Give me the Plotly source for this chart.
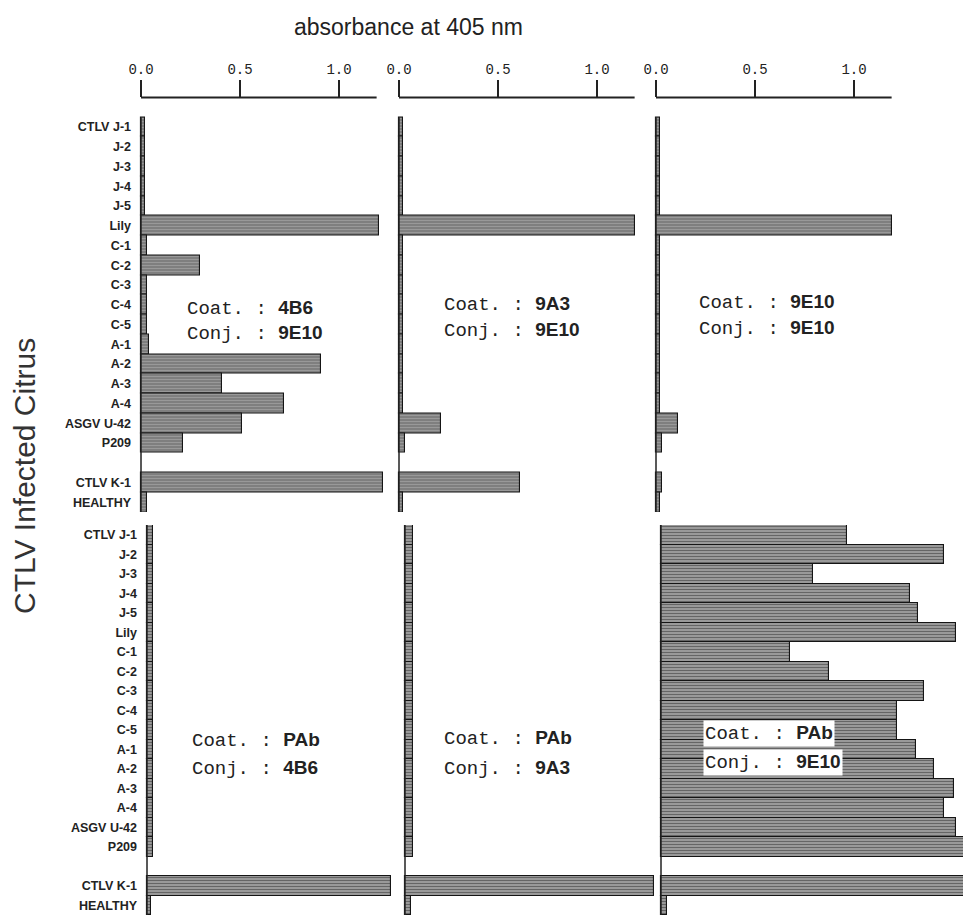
import plotly.graph_objects as go

W, H = 963, 917
def px(x): return x / W
def py(y): return 1 - y / H

# ---------------- data ----------------
categories = ["CTLV J-1", "J-2", "J-3", "J-4", "J-5", "Lily", "C-1", "C-2", "C-3",
              "C-4", "C-5", "A-1", "A-2", "A-3", "A-4", "ASGV U-42", "P209",
              "CTLV K-1", "HEALTHY"]
positions = list(range(17)) + [18, 19]

top_4b6_9e10 = [0.02, 0.02, 0.02, 0.02, 0.02, 1.20, 0.03, 0.30, 0.03, 0.03, 0.03, 0.04,
                0.91, 0.41, 0.72, 0.51, 0.21, 1.22, 0.03]
top_9a3_9e10 = [0.02, 0.02, 0.02, 0.02, 0.02, 1.19, 0.02, 0.02, 0.02, 0.02, 0.02, 0.02,
                0.02, 0.02, 0.02, 0.21, 0.03, 0.61, 0.02]
top_9e10_9e10 = [0.02, 0.02, 0.02, 0.02, 0.02, 1.19, 0.02, 0.02, 0.02, 0.02, 0.02, 0.02,
                 0.02, 0.02, 0.02, 0.11, 0.03, 0.03, 0.02]
bot_pab_4b6 = [0.03, 0.03, 0.03, 0.03, 0.03, 0.03, 0.03, 0.03, 0.03, 0.03, 0.03, 0.03,
               0.03, 0.03, 0.03, 0.03, 0.03, 1.23, 0.02]
bot_pab_9a3 = [0.04, 0.04, 0.04, 0.04, 0.04, 0.04, 0.04, 0.04, 0.04, 0.04, 0.04, 0.04,
               0.04, 0.04, 0.04, 0.04, 0.04, 1.26, 0.03]
bot_pab_9e10 = [0.94, 1.43, 0.77, 1.26, 1.30, 1.49, 0.65, 0.85, 1.33, 1.19, 1.19, 1.29,
                1.38, 1.48, 1.43, 1.49, 1.55, 1.60, 0.03]

coat_labels = ["4B6", "9A3", "9E10", "PAb", "PAb", "PAb"]
conj_labels = ["9E10", "9E10", "9E10", "4B6", "9A3", "9E10"]
tick_vals = [0.0, 0.5, 1.0]
tick_text = ["0.0", "0.5", "1.0"]

series = [top_4b6_9e10, top_9a3_9e10, top_9e10_9e10, bot_pab_4b6, bot_pab_9a3, bot_pab_9e10]

# ---------------- geometry (pixels) ----------------
SCALE = 198.0  # px per absorbance unit
x0_px = [141, 399, 656, 147, 405, 661]
right_px = [394, 653, 963, 400, 659, 963]
pad_px = 5
ydom = {0: (97.5, 512), 1: (525, 915)}
yrng = {0: [19.5, -1.5], 1: [19.5, -0.5]}

ann_pos = [(185, 308, 333), (442, 305, 330), (697, 303, 328),
           (190, 740, 768), (442, 738, 768), (703, 733, 762)]

fig = go.Figure()
layout = dict(width=W, height=H, margin=dict(l=0, r=0, t=0, b=0, pad=0, autoexpand=False),
              paper_bgcolor="white", plot_bgcolor="rgba(0,0,0,0)",
              showlegend=False, bargap=0)
shapes = []
annotations = []

for i, vals in enumerate(series):
    n = i + 1
    row = 0 if i < 3 else 1
    xa = "x" if n == 1 else f"x{n}"
    ya = "y" if n == 1 else f"y{n}"
    fig.add_trace(go.Bar(
        x=vals, y=positions, orientation="h", width=1.0,
        xaxis=xa, yaxis=ya,
        marker=dict(color="#ffffff",
                    line=dict(color="#151515", width=1.1),
                    pattern=dict(shape="-", fgcolor="#1a1a1a", bgcolor="#b0b0b0",
                                 size=3, solidity=0.55)),
        hoverinfo="x+y"))
    x0 = x0_px[i]
    xr = [-pad_px / SCALE, (right_px[i] - x0) / SCALE]
    xdom = [px(x0 - pad_px), px(right_px[i])]
    xkey = "xaxis" if n == 1 else f"xaxis{n}"
    ykey = "yaxis" if n == 1 else f"yaxis{n}"
    if row == 0:
        layout[xkey] = dict(domain=xdom, range=xr, anchor=ya, side="top",
                            tickvals=tick_vals, ticktext=tick_text,
                            ticks="outside", ticklen=17, tickwidth=1.5, tickcolor="#222",
                            tickfont=dict(family="Liberation Mono", size=14, color="#222"),
                            showline=False, showgrid=False, zeroline=False,
                            automargin=False, fixedrange=True)
        # top axis line from 0 to 1.19
        shapes.append(dict(type="line", xref=xa, yref="paper", x0=0, x1=1.19,
                           y0=py(97.5), y1=py(97.5), line=dict(color="#222", width=2)))
    else:
        layout[xkey] = dict(domain=xdom, range=xr, anchor=ya, visible=False,
                            automargin=False, fixedrange=True)
    yd = ydom[row]
    layout[ykey] = dict(domain=[py(yd[1]), py(yd[0])], range=yrng[row], anchor=xa,
                        tickvals=positions, ticktext=categories,
                        showticklabels=(i in (0, 3)), ticks="",
                        tickfont=dict(family="Liberation Sans", size=12.5, color="#222",
                                      weight="bold"),
                        ticklabelstandoff=4,
                        showline=False, showgrid=False, zeroline=False,
                        automargin=False, fixedrange=True)
    # vertical baseline of the panel
    shapes.append(dict(type="line", xref=xa, yref=ya, x0=0, x1=0, y0=-0.5, y1=19.5,
                       line=dict(color="#222", width=1.5)))
    # panel label
    ax, yc, yj = ann_pos[i]
    bg = "white" if i == 5 else "rgba(0,0,0,0)"
    for text_pre, bold, yy in (("Coat.\u00a0:\u00a0", coat_labels[i], yc),
                               ("Conj.\u00a0:\u00a0", conj_labels[i], yj)):
        annotations.append(dict(
            xref="paper", yref="paper", x=px(ax), y=py(yy),
            xanchor="left", yanchor="middle", showarrow=False,
            text=f'<span style="font-family:Liberation Mono">{text_pre}</span><b>{bold}</b>',
            font=dict(family="Liberation Sans", size=19, color="#222"),
            bgcolor=bg, borderpad=1))

# Title and y label
annotations.append(dict(xref="paper", yref="paper", x=px(408), y=py(27),
                        xanchor="center", yanchor="middle", showarrow=False,
                        text="absorbance at 405 nm",
                        font=dict(family="Liberation Sans", size=23, color="#222")))
annotations.append(dict(xref="paper", yref="paper", x=px(24), y=py(476),
                        xanchor="center", yanchor="middle", showarrow=False,
                        textangle=-90, text="CTLV Infected Citrus",
                        font=dict(family="Liberation Sans", size=30, color="#333")))

layout["shapes"] = shapes
layout["annotations"] = annotations
fig.update_layout(**layout)
fig.write_html("out.html", config={"displayModeBar": False},
               post_script="document.body.style.margin='0';document.body.style.overflow='hidden';")
